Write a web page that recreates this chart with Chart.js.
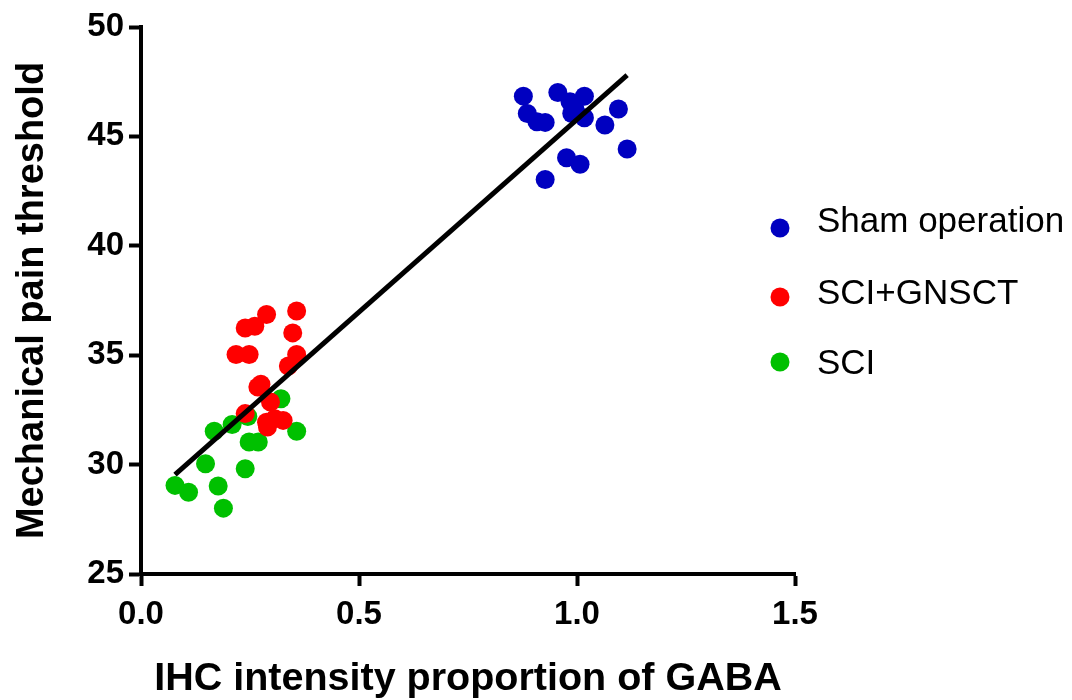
<!DOCTYPE html>
<html>
<head>
<meta charset="utf-8">
<script src="https://cdn.jsdelivr.net/npm/chart.js@4.4.1/dist/chart.umd.min.js"></script>
<style>
  html, body { margin: 0; padding: 0; background: #fff; }
  #wrap { width: 1072px; height: 700px; }
</style>
</head>
<body>
<div id="wrap"><canvas id="scatter" width="1072" height="700"></canvas></div>
<script>
const SERIES_LABELS = ['Sham operation', 'SCI+GNSCT', 'SCI'];

const shamX = [0.877, 0.886, 0.908, 0.927, 0.956, 0.984, 1.017, 0.988, 1.017, 1.064, 1.095, 1.115, 0.976, 1.007, 0.927, 0.995];
const shamY = [46.84, 46.05, 45.67, 45.64, 47.01, 46.58, 46.84, 46.05, 45.85, 45.52, 46.25, 44.42, 44.02, 43.73, 43.03, 46.3];

const gnsctX = [0.288, 0.357, 0.239, 0.261, 0.348, 0.218, 0.248, 0.357, 0.338, 0.275, 0.268, 0.297, 0.239, 0.288, 0.290, 0.326, 0.307];
const gnsctY = [36.86, 37.02, 36.24, 36.32, 36.02, 35.03, 35.03, 35.03, 34.51, 33.67, 33.55, 32.86, 32.33, 31.94, 31.72, 32.02, 32.10];

const sciX = [0.321, 0.209, 0.168, 0.357, 0.248, 0.269, 0.148, 0.239, 0.078, 0.109, 0.177, 0.189, 0.245];
const sciY = [33.01, 31.83, 31.52, 31.52, 31.03, 31.03, 30.04, 29.81, 29.05, 28.74, 29.02, 28.01, 32.2];

// fitted line end points
const fitX = [0.078, 1.115];
const fitY = [29.54, 47.8];

const X_TICKS = [0.0, 0.5, 1.0, 1.5];
const Y_TICKS = [25, 30, 35, 40, 45, 50];

const COLORS = ['rgb(0, 0, 192)', 'rgb(255, 0, 0)', 'rgb(0, 192, 0)'];
const FONT = 'Arial, "Liberation Sans", Helvetica, sans-serif';

function pairs(xs, ys) {
  return xs.map((x, i) => ({ x: x, y: ys[i] }));
}

function scatterSet(label, xs, ys, color, order) {
  return {
    type: 'scatter',
    label: label,
    data: pairs(xs, ys),
    backgroundColor: color,
    borderColor: color,
    borderWidth: 0,
    pointRadius: 9.5,
    pointHoverRadius: 9.5,
    order: order,
  };
}

// legend drawn by hand on the right, like the original
const sideLegend = {
  id: 'sideLegend',
  afterDraw(chart) {
    const ctx = chart.ctx;
    const rows = [222, 294, 364];
    const dots = [228, 297, 362];
    const sets = chart.data.datasets.filter(d => d.type === 'scatter');
    ctx.save();
    ctx.font = '35px ' + FONT;
    ctx.textBaseline = 'middle';
    ctx.textAlign = 'left';
    sets.forEach((d, i) => {
      ctx.fillStyle = d.backgroundColor;
      ctx.beginPath();
      ctx.arc(780, dots[i], 9.5, 0, Math.PI * 2);
      ctx.fill();
      ctx.fillStyle = '#000';
      ctx.fillText(d.label, 817, rows[i]);
    });
    ctx.restore();
  }
};

const axisGrid = {
  display: true,
  drawOnChartArea: false,
  drawTicks: true,
  tickLength: 12,
  tickWidth: 4,
  color: '#000',
};

new Chart(document.getElementById('scatter'), {
  type: 'scatter',
  data: {
    datasets: [
      {
        type: 'line',
        label: 'fit',
        data: pairs(fitX, fitY),
        borderColor: '#000',
        borderWidth: 5,
        pointRadius: 0,
        fill: false,
        order: 0,
      },
      scatterSet(SERIES_LABELS[0], shamX, shamY, COLORS[0], 2),
      scatterSet(SERIES_LABELS[1], gnsctX, gnsctY, COLORS[1], 1),
      scatterSet(SERIES_LABELS[2], sciX, sciY, COLORS[2], 3),
    ]
  },
  options: {
    responsive: false,
    animation: false,
    layout: { padding: { left: 0, top: 27, right: 277, bottom: 0 } },
    plugins: {
      legend: { display: false },
      tooltip: { enabled: false },
    },
    scales: {
      x: {
        type: 'linear',
        min: 0,
        max: 1.5,
        afterFit(scale) { scale.height = 126; },
        afterBuildTicks(scale) { scale.ticks = X_TICKS.map(v => ({ value: v })); },
        border: { display: true, color: '#000', width: 4 },
        grid: axisGrid,
        ticks: {
          color: '#000',
          padding: 9,
          font: { family: FONT, size: 33, weight: 'bold' },
          callback: v => v.toFixed(1),
        },
        title: {
          display: true,
          text: 'IHC intensity proportion of GABA',
          color: '#000',
          font: { family: FONT, size: 39.5, weight: 'bold', lineHeight: 1.0 },
          padding: { top: 0, bottom: 1 },
        },
      },
      y: {
        type: 'linear',
        min: 25,
        max: 50,
        afterFit(scale) { scale.width = 141; },
        afterBuildTicks(scale) { scale.ticks = Y_TICKS.map(v => ({ value: v })); },
        border: { display: true, color: '#000', width: 4 },
        grid: axisGrid,
        ticks: {
          color: '#000',
          padding: 5,
          font: { family: FONT, size: 33, weight: 'bold' },
        },
        title: {
          display: true,
          text: 'Mechanical pain threshold',
          color: '#000',
          font: { family: FONT, size: 38, weight: 'bold', lineHeight: 1.0 },
          padding: { top: 14, bottom: 0 },
        },
      },
    },
  },
  plugins: [sideLegend],
});
</script>
</body>
</html>
